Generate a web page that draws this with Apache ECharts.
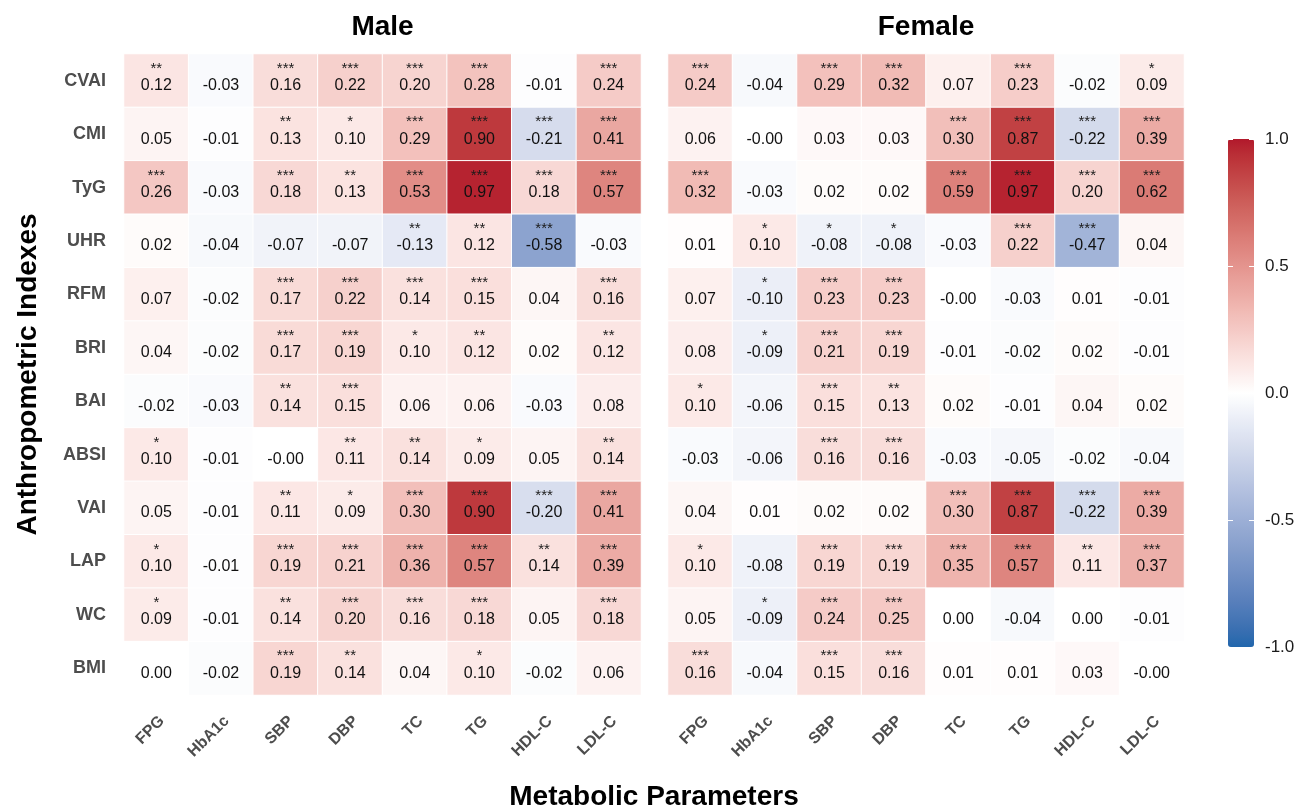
<!DOCTYPE html>
<html>
<head>
<meta charset="utf-8">
<title>Anthropometric indexes vs metabolic parameters</title>
<script src="https://cdn.jsdelivr.net/npm/echarts@6/dist/echarts.min.js"></script>
<style>
  html, body { margin: 0; padding: 0; background: #ffffff; }
  #chart { width: 1304px; height: 810px; }
</style>
</head>
<body>
<div id="chart"></div>
<script>
// Rows (top to bottom) and columns of both heatmap panels
const indexes = ['CVAI', 'CMI', 'TyG', 'UHR', 'RFM', 'BRI', 'BAI', 'ABSI', 'VAI', 'LAP', 'WC', 'BMI'];
const parameters = ['FPG', 'HbA1c', 'SBP', 'DBP', 'TC', 'TG', 'HDL-C', 'LDL-C'];

// Correlation coefficients, male panel (row = index, column = parameter)
const maleR = [
  [0.12, -0.03, 0.16, 0.22, 0.20, 0.28, -0.01, 0.24],
  [0.05, -0.01, 0.13, 0.10, 0.29, 0.90, -0.21, 0.41],
  [0.26, -0.03, 0.18, 0.13, 0.53, 0.97, 0.18, 0.57],
  [0.02, -0.04, -0.07, -0.07, -0.13, 0.12, -0.58, -0.03],
  [0.07, -0.02, 0.17, 0.22, 0.14, 0.15, 0.04, 0.16],
  [0.04, -0.02, 0.17, 0.19, 0.10, 0.12, 0.02, 0.12],
  [-0.02, -0.03, 0.14, 0.15, 0.06, 0.06, -0.03, 0.08],
  [0.10, -0.01, -0, 0.11, 0.14, 0.09, 0.05, 0.14],
  [0.05, -0.01, 0.11, 0.09, 0.30, 0.90, -0.20, 0.41],
  [0.10, -0.01, 0.19, 0.21, 0.36, 0.57, 0.14, 0.39],
  [0.09, -0.01, 0.14, 0.20, 0.16, 0.18, 0.05, 0.18],
  [0.00, -0.02, 0.19, 0.14, 0.04, 0.10, -0.02, 0.06]
];

// Significance marks, male panel
const maleSig = [
  ['**', '', '***', '***', '***', '***', '', '***'],
  ['', '', '**', '*', '***', '***', '***', '***'],
  ['***', '', '***', '**', '***', '***', '***', '***'],
  ['', '', '', '', '**', '**', '***', ''],
  ['', '', '***', '***', '***', '***', '', '***'],
  ['', '', '***', '***', '*', '**', '', '**'],
  ['', '', '**', '***', '', '', '', ''],
  ['*', '', '', '**', '**', '*', '', '**'],
  ['', '', '**', '*', '***', '***', '***', '***'],
  ['*', '', '***', '***', '***', '***', '**', '***'],
  ['*', '', '**', '***', '***', '***', '', '***'],
  ['', '', '***', '**', '', '*', '', '']
];

// Correlation coefficients, female panel
const femaleR = [
  [0.24, -0.04, 0.29, 0.32, 0.07, 0.23, -0.02, 0.09],
  [0.06, -0, 0.03, 0.03, 0.30, 0.87, -0.22, 0.39],
  [0.32, -0.03, 0.02, 0.02, 0.59, 0.97, 0.20, 0.62],
  [0.01, 0.10, -0.08, -0.08, -0.03, 0.22, -0.47, 0.04],
  [0.07, -0.10, 0.23, 0.23, -0, -0.03, 0.01, -0.01],
  [0.08, -0.09, 0.21, 0.19, -0.01, -0.02, 0.02, -0.01],
  [0.10, -0.06, 0.15, 0.13, 0.02, -0.01, 0.04, 0.02],
  [-0.03, -0.06, 0.16, 0.16, -0.03, -0.05, -0.02, -0.04],
  [0.04, 0.01, 0.02, 0.02, 0.30, 0.87, -0.22, 0.39],
  [0.10, -0.08, 0.19, 0.19, 0.35, 0.57, 0.11, 0.37],
  [0.05, -0.09, 0.24, 0.25, 0.00, -0.04, 0.00, -0.01],
  [0.16, -0.04, 0.15, 0.16, 0.01, 0.01, 0.03, -0]
];

// Significance marks, female panel
const femaleSig = [
  ['***', '', '***', '***', '', '***', '', '*'],
  ['', '', '', '', '***', '***', '***', '***'],
  ['***', '', '', '', '***', '***', '***', '***'],
  ['', '*', '*', '*', '', '***', '***', ''],
  ['', '*', '***', '***', '', '', '', ''],
  ['', '*', '***', '***', '', '', '', ''],
  ['*', '', '***', '**', '', '', '', ''],
  ['', '', '***', '***', '', '', '', ''],
  ['', '', '', '', '***', '***', '***', '***'],
  ['*', '', '***', '***', '***', '***', '**', '***'],
  ['', '*', '***', '***', '', '', '', ''],
  ['***', '', '***', '***', '', '', '', '']
];

// Colour bar breaks
const legendTicks = [-1, -0.5, 0, 0.5, 1];

const FONT = '"Liberation Sans", Arial, Helvetica, sans-serif';
const LOW = '#2166AC', MID = '#FFFFFF', HIGH = '#B2182B';

// ---- diverging palette interpolated in CIE Lab ----
function hexToRgb(h) {
  const n = parseInt(h.slice(1), 16);
  return [(n >> 16) & 255, (n >> 8) & 255, n & 255];
}
function toLin(c) { c /= 255; return c <= 0.04045 ? c / 12.92 : Math.pow((c + 0.055) / 1.055, 2.4); }
function fromLin(c) {
  const v = c <= 0.0031308 ? 12.92 * c : 1.055 * Math.pow(c, 1 / 2.4) - 0.055;
  return Math.round(Math.max(0, Math.min(1, v)) * 255);
}
function rgbToLab(rgb) {
  const [R, G, B] = rgb.map(toLin);
  const X = (0.4124564 * R + 0.3575761 * G + 0.1804375 * B) / 0.95047;
  const Y = (0.2126729 * R + 0.7151522 * G + 0.0721750 * B);
  const Z = (0.0193339 * R + 0.1191920 * G + 0.9503041 * B) / 1.08883;
  const f = t => t > 0.008856 ? Math.cbrt(t) : 7.787 * t + 16 / 116;
  const fx = f(X), fy = f(Y), fz = f(Z);
  return [116 * fy - 16, 500 * (fx - fy), 200 * (fy - fz)];
}
function labToHex(lab) {
  const fy = (lab[0] + 16) / 116, fx = fy + lab[1] / 500, fz = fy - lab[2] / 200;
  const inv = t => { const t3 = t * t * t; return t3 > 0.008856 ? t3 : (t - 16 / 116) / 7.787; };
  const X = 0.95047 * inv(fx), Y = inv(fy), Z = 1.08883 * inv(fz);
  const R = 3.2404542 * X - 1.5371385 * Y - 0.4985314 * Z;
  const G = -0.9692660 * X + 1.8760108 * Y + 0.0415560 * Z;
  const B = 0.0556434 * X - 0.2040259 * Y + 1.0572252 * Z;
  return '#' + [R, G, B].map(c => fromLin(c).toString(16).padStart(2, '0')).join('');
}
function mixLab(a, b, t) {
  const A = rgbToLab(hexToRgb(a)), B = rgbToLab(hexToRgb(b));
  return labToHex(A.map((v, i) => v + (B[i] - v) * t));
}
const paletteStops = [];
for (let i = 0; i <= 40; i++) {
  const v = -1 + i * 0.05;
  paletteStops.push(v < 0 ? mixLab(LOW, MID, v + 1) : mixLab(MID, HIGH, v));
}

// ---- helpers ----
function cells(r) {
  const out = [];
  r.forEach((row, i) => row.forEach((v, j) => out.push([j, i, v])));
  return out;
}
function fmt(v) {
  return (v < 0 || Object.is(v, -0)) ? '-' + Math.abs(v).toFixed(2) : v.toFixed(2);
}
function labelFor(R, S) {
  return p => {
    const j = p.data[0], i = p.data[1];
    const s = S[i][j];
    return '{s|' + (s || ' ') + '}\n{v|' + fmt(R[i][j]) + '}';
  };
}

const cellLabel = (R, S) => ({
  show: true,
  offset: [0, -4],
  formatter: labelFor(R, S),
  rich: {
    s: { fontSize: 15, lineHeight: 18, color: '#1a1a1a', fontFamily: FONT, align: 'center' },
    v: { fontSize: 16, lineHeight: 16, color: '#111111', fontFamily: FONT, align: 'center' }
  }
});

const axisLabelX = {
  interval: 0, rotate: 45, color: '#4D4D4D', fontWeight: 'bold', fontSize: 16,
  fontFamily: FONT, margin: 18, align: 'right', verticalAlign: 'top'
};

const panelX = (gridIndex) => ({
  type: 'category', gridIndex, data: parameters,
  axisLine: { show: false }, axisTick: { show: false }, splitLine: { show: false },
  axisLabel: axisLabelX
});

const option = {
  backgroundColor: '#ffffff',
  animation: false,
  textStyle: { fontFamily: FONT },
  title: [
    { text: 'Male', left: 382.5, top: 13, textAlign: 'center', padding: 0,
      textStyle: { fontSize: 28, fontWeight: 'bold', color: '#000', fontFamily: FONT } },
    { text: 'Female', left: 926, top: 13, textAlign: 'center', padding: 0,
      textStyle: { fontSize: 28, fontWeight: 'bold', color: '#000', fontFamily: FONT } },
    { text: 'Metabolic Parameters', left: 654, top: 783, textAlign: 'center', padding: 0,
      textStyle: { fontSize: 28, fontWeight: 'bold', color: '#000', fontFamily: FONT } }
  ],
  grid: [
    { left: 124, top: 54, width: 517, height: 641 },
    { left: 668, top: 54, width: 516, height: 641 },
    { left: 1228, top: 139, width: 26, height: 508 }
  ],
  xAxis: [
    panelX(0),
    panelX(1),
    { type: 'category', gridIndex: 2, data: [''], show: false }
  ],
  yAxis: [
    {
      type: 'category', gridIndex: 0, data: indexes, inverse: true,
      axisLine: { show: false }, axisTick: { show: false }, splitLine: { show: false },
      axisLabel: { color: '#4D4D4D', fontWeight: 'bold', fontSize: 18, fontFamily: FONT, margin: 18 },
      name: 'Anthropometric Indexes', nameLocation: 'middle', nameRotate: 90, nameGap: 82,
      nameTextStyle: { fontSize: 28, fontWeight: 'bold', color: '#000', fontFamily: FONT }
    },
    {
      type: 'category', gridIndex: 1, data: indexes, inverse: true,
      axisLine: { show: false }, axisTick: { show: false }, splitLine: { show: false },
      axisLabel: { show: false }
    },
    {
      type: 'value', gridIndex: 2, position: 'right', min: -1, max: 1, interval: 0.5, z: 10,
      axisLine: { show: false }, splitLine: { show: false },
      axisTick: { show: true, inside: true, length: 5, lineStyle: { color: '#ffffff', width: 1 } },
      axisLabel: {
        color: '#1a1a1a', fontSize: 17, fontFamily: FONT, margin: 11,
        formatter: v => legendTicks.includes(v) ? v.toFixed(1) : ''
      }
    },
    {
      type: 'value', gridIndex: 2, position: 'left', min: -1, max: 1, interval: 0.5, z: 10,
      axisLine: { show: false }, splitLine: { show: false },
      axisTick: { show: true, inside: true, length: 5, lineStyle: { color: '#ffffff', width: 1 } },
      axisLabel: { show: false }
    }
  ],
  visualMap: {
    type: 'continuous', min: -1, max: 1, seriesIndex: [0, 1],
    orient: 'vertical', left: 1228, top: 139, itemWidth: 26, itemHeight: 508,
    padding: 0, calculable: false, hoverLink: false, text: null,
    inRange: { color: paletteStops }
  },
  series: [
    {
      name: 'Male', type: 'heatmap', xAxisIndex: 0, yAxisIndex: 0,
      data: cells(maleR),
      itemStyle: { borderColor: '#ffffff', borderWidth: 1 },
      label: cellLabel(maleR, maleSig),
      emphasis: { disabled: true }
    },
    {
      name: 'Female', type: 'heatmap', xAxisIndex: 1, yAxisIndex: 1,
      data: cells(femaleR),
      itemStyle: { borderColor: '#ffffff', borderWidth: 1 },
      label: cellLabel(femaleR, femaleSig),
      emphasis: { disabled: true }
    }
  ]
};

const chart = echarts.init(document.getElementById('chart'), null, { renderer: 'canvas' });
chart.setOption(option);
</script>
</body>
</html>
